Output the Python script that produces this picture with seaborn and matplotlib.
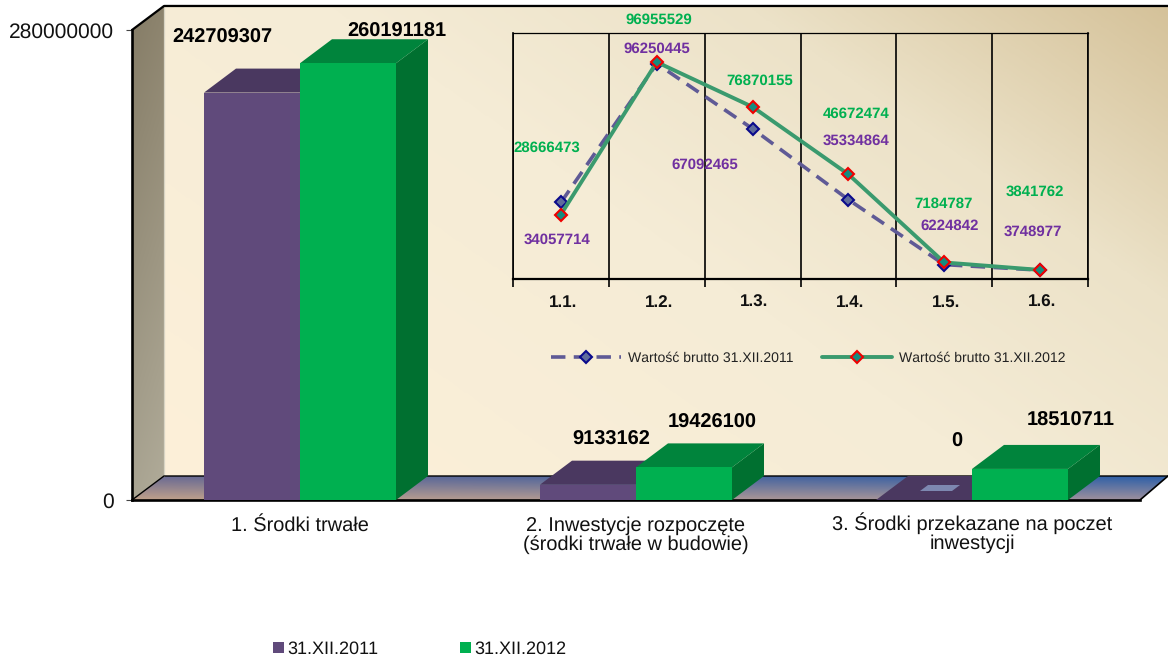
import numpy as np
import pandas as pd
import matplotlib
matplotlib.use("Agg")
import matplotlib.pyplot as plt
from matplotlib.colors import LinearSegmentedColormap, to_rgb
from matplotlib.patches import Polygon
import seaborn as sns

# ---------- data ----------
categories = ["1. Środki trwałe",
              "2. Inwestycje rozpoczęte\n(środki trwałe w budowie)",
              "3. Środki przekazane na poczet\ninwestycji"]
series_names = ["31.XII.2011", "31.XII.2012"]
values_2011 = [242709307, 9133162, 0]
values_2012 = [260191181, 19426100, 18510711]

sub_categories = ["1.1.", "1.2.", "1.3.", "1.4.", "1.5.", "1.6."]
brutto_2011 = [34057714, 96250445, 67092465, 35334864, 6224842, 3748977]
brutto_2012 = [28666473, 96955529, 76870155, 46672474, 7184787, 3841762]
line_names = ["Wartość brutto 31.XII.2011", "Wartość brutto 31.XII.2012"]

# ---------- setup ----------
sns.set_theme(style="white")
plt.rcParams["font.family"] = ["Liberation Sans", "DejaVu Sans"]
plt.rcParams["text.hinting"] = "none"
plt.rcParams["text.hinting_factor"] = 1
W, H = 1168, 659
fig = plt.figure(figsize=(W / 100, H / 100), dpi=100, facecolor="white")


def rect(x0, y0, x1, y1):
    return [x0 / W, 1 - y1 / H, (x1 - x0) / W, (y1 - y0) / H]


# ---------- 3D box background (pixel coordinates) ----------
bg = fig.add_axes([0, 0, 1, 1], zorder=0)
bg.set_xlim(0, W)
bg.set_ylim(H, 0)
bg.axis("off")
FX0, FX1, FY0, FY1 = 132, 1140, 30, 500   # front plane
DX, DY = 32, 24                           # depth
BX0, BY0, BY1 = FX0 + DX, FY0 - DY, FY1 - DY

# back wall
wall_cmap = LinearSegmentedColormap.from_list(
    "wall", [(0, "#FDF0D9"), (0.5, "#F5ECD6"), (0.75, "#ECE2C8"), (1, "#D5C29A")])
uu, vv = np.meshgrid(np.linspace(0, 1, 500), np.linspace(1, 0, 300))
bg.imshow(wall_cmap(0.6 * uu + 0.4 * vv), extent=(BX0, W, BY1, BY0),
          aspect="auto", zorder=1, interpolation="bilinear")

# left wall
lw_poly = Polygon([(FX0, FY0), (BX0, BY0), (BX0, BY1), (FX0, FY1)], transform=bg.transData,
                  fc="none", ec="none")
bg.add_patch(lw_poly)
vv2 = np.linspace(0, 1, 200)[:, None, None]
uu2 = np.linspace(0, 1, 20)[None, :, None]
lw_top, lw_bot = np.array(to_rgb("#857C66")), np.array(to_rgb("#A9A492"))
lw_img = lw_top * (1 - vv2) + lw_bot * vv2 + 0.03 * uu2
im = bg.imshow(np.clip(lw_img, 0, 1), extent=(FX0, BX0, FY1, BY0), aspect="auto",
               zorder=1, interpolation="bilinear")
im.set_clip_path(lw_poly)

# floor
fl_poly = Polygon([(FX0, FY1), (FX1, FY1), (W, BY1), (BX0, BY1)], transform=bg.transData,
                  fc="none", ec="none")
bg.add_patch(fl_poly)
v = np.linspace(0, 1, 40)[:, None, None]
u = np.linspace(0, 1, 200)[None, :, None]
b_l, b_r = np.array(to_rgb("#6B6A92")), np.array(to_rgb("#2C5FA8"))
f_l, f_r = np.array(to_rgb("#C0A18A")), np.array(to_rgb("#9C8F9E"))
fl_img = ((b_l * (1 - u) + b_r * u) * (1 - v) + (f_l * (1 - u) + f_r * u) * v)
im = bg.imshow(fl_img, extent=(FX0, W, FY1, BY1), aspect="auto", zorder=1,
               interpolation="bilinear")
im.set_clip_path(fl_poly)
bg.set_xlim(0, W)
bg.set_ylim(H, 0)

# box edges
edge = dict(color="black", solid_capstyle="round", zorder=3)
bg.plot([FX0, BX0, W], [FY0, BY0, BY0], lw=1.6, **edge)
bg.plot([BX0, W], [BY0 - 1.5, BY0 - 1.5], lw=1.0, color="#BBBBBB", zorder=2)
bg.plot([FX0, BX0, W], [FY1, BY1, BY1], lw=1.0, **edge)
bg.plot([FX1, W], [FY1, BY1], lw=1.2, **edge)
bg.plot([BX0, BX0], [BY0, BY1], lw=0.9, color="#D8D4C4", zorder=2)

# ---------- bars ----------
ax = fig.add_axes(rect(FX0, FY0, FX1, FY1), zorder=1)
ax.patch.set_alpha(0)
df = pd.DataFrame({
    "category": categories * 2,
    "series": [series_names[0]] * 3 + [series_names[1]] * 3,
    "value": values_2011 + values_2012,
})
front = ["#604A7B", "#00B050"]
top = ["#4A3860", "#00843C"]
side = ["#3E2E52", "#007030"]
sns.barplot(data=df, x="category", y="value", hue="series", hue_order=series_names,
            palette=front, saturation=1, width=0.5714, gap=0, legend=False,
            linewidth=0, ax=ax)
ax.set_xlim(-0.5, 2.5)
ax.set_ylim(0, 280000000)
ax.set_xlabel("")
ax.set_ylabel("")
ax.set_yticks([0, 280000000], ["0", "280000000"], fontsize=15, color="#111111")
ax.tick_params(axis="y", left=True, length=4.5, width=0.8, color="#444444", pad=8.5)
ax.tick_params(axis="x", bottom=False, labelsize=14.5, labelcolor="#111111", pad=5.5)
for lab in ax.get_xticklabels():
    lab.set_linespacing(1.04)
ax.xaxis.get_major_ticks()[2].set_pad(2.5)
for s in ("top", "right"):
    ax.spines[s].set_visible(False)
for s in ("left", "bottom"):
    ax.spines[s].set_color("black")
    ax.spines[s].set_linewidth(1.9)
    ax.spines[s].set_zorder(1.5)

# depth faces derived from the drawn bars
ddx = DX / (FX1 - FX0) * 3
ddy = DY / (FY1 - FY0) * 280000000
for k, cont in enumerate(ax.containers):
    for bar in cont:
        bar.set_zorder(2 + k)
        x0, x1, h = bar.get_x(), bar.get_x() + bar.get_width(), bar.get_height()
        ax.add_patch(Polygon([(x1, 0), (x1 + ddx, ddy), (x1 + ddx, h + ddy), (x1, h)],
                             fc=side[k], ec="none", clip_on=False, zorder=2 + k - 0.1))
        ax.add_patch(Polygon([(x0, h), (x0 + ddx, h + ddy), (x1 + ddx, h + ddy), (x1, h)],
                             fc=top[k], ec="none", clip_on=False, zorder=2 + k - 0.1))
        if h == 0:
            cx, cy = (x0 + x1 + ddx) / 2, ddy / 2
            w3, h3 = (x1 - x0) / 6, ddy / 8
            sk = ddx / ddy
            ax.add_patch(Polygon([(cx - w3 - sk * h3, cy - h3), (cx - w3 + sk * h3, cy + h3),
                                  (cx + w3 + sk * h3, cy + h3), (cx + w3 - sk * h3, cy - h3)],
                                 fc="#7D88B0", ec="none", clip_on=False, zorder=2.5))
bar_label_offsets = [[(-30, 55), (23, 45), (33, 58)], [(48.5, 32), (28, 44.5), (51, 48)]]
for k, cont in enumerate(ax.containers):
    for bar, off in zip(cont, bar_label_offsets[k]):
        ax.annotate(f"{int(bar.get_height())}",
                    (bar.get_x() + bar.get_width() / 2, bar.get_height()),
                    xytext=off, textcoords="offset pixels", ha="center", va="center",
                    fontsize=14.6, fontweight="bold", color="black", zorder=6,
                    annotation_clip=False)

fig.legend(handles=list(ax.containers), labels=series_names, ncol=2, frameon=False,
           loc="center", bbox_to_anchor=(420 / W, 1 - 649 / H), fontsize=13,
           handlelength=0.6, handleheight=0.6, handletextpad=0.2, columnspacing=4.5,
           labelcolor="#111111", borderpad=0, borderaxespad=0)

# ---------- inset line chart ----------
ins = fig.add_axes(rect(513, 33, 1088, 278.5), zorder=2)
ins.patch.set_alpha(0)
pos = list(range(len(sub_categories)))
line_df = pd.DataFrame({"pos": pos, "y11": brutto_2011, "y12": brutto_2012})
sns.lineplot(data=line_df, x="pos", y="y11", ax=ins, color="#5F5A96", lw=2.6,
             linestyle=(0, (4, 2.3)), marker="D", markersize=6.5, markerfacecolor="#5F6C9C",
             markeredgecolor="#0A0A8C", markeredgewidth=1.5, label=line_names[0],
             clip_on=False, errorbar=None, legend=False)
sns.lineplot(data=line_df, x="pos", y="y12", ax=ins, color="#3A9A6E", lw=2.8,
             marker="D", markersize=6.5, markerfacecolor="#148C80",
             markeredgecolor="#F00000", markeredgewidth=1.5, label=line_names[1],
             clip_on=False, errorbar=None, legend=False)
ins.set_xlim(-0.5, 5.5)
ins.set_ylim(0, 110000000)
ins.set_xlabel("")
ins.set_ylabel("")
ins.set_yticks([])
ins.set_xticks([p - 0.5 for p in pos] + [pos[-1] + 0.5], [""] * (len(pos) + 1))
ins.set_xticks([p + 0.02 for p in pos], sub_categories, minor=True, fontsize=12,
               fontweight="bold", color="#111111")
ins.tick_params(axis="x", which="major", bottom=True, length=5.5, width=1.2, color="black")
ins.tick_params(axis="x", which="minor", bottom=False, length=0, pad=11.5)
ins.grid(axis="x", which="major", color="black", lw=1.2)
ins.set_axisbelow(True)
for s, lw_s in (("top", 0.9), ("left", 1.2), ("right", 1.2), ("bottom", 1.6)):
    ins.spines[s].set_color("black")
    ins.spines[s].set_linewidth(lw_s)

off12 = [(-14, 67), (2, 42), (7, 26), (8, 60), (-1, 58), (-5, 78)]
off11 = [(-4, -37), (0, 15), (-48, -36), (8, 59), (5, 39), (-7, 38)]
for vals, offs, col in ((brutto_2012, off12, "#00B050"), (brutto_2011, off11, "#7030A0")):
    for p, val, off in zip(pos, vals, offs):
        ins.annotate(f"{val}", (p, val), xytext=off, textcoords="offset pixels",
                     ha="center", va="center", fontsize=10.8, fontweight="bold", color=col,
                     annotation_clip=False, zorder=6)

h, l = ins.get_legend_handles_labels()
fig.legend(h, l, ncol=2, frameon=False, loc="center",
           bbox_to_anchor=(808 / W, 1 - 358 / H), fontsize=10.2, handlelength=4.95,
           handletextpad=0.5, columnspacing=2.0, labelcolor="#222222",
           borderpad=0, borderaxespad=0)

fig.savefig("out.png", dpi=100, facecolor="white")
